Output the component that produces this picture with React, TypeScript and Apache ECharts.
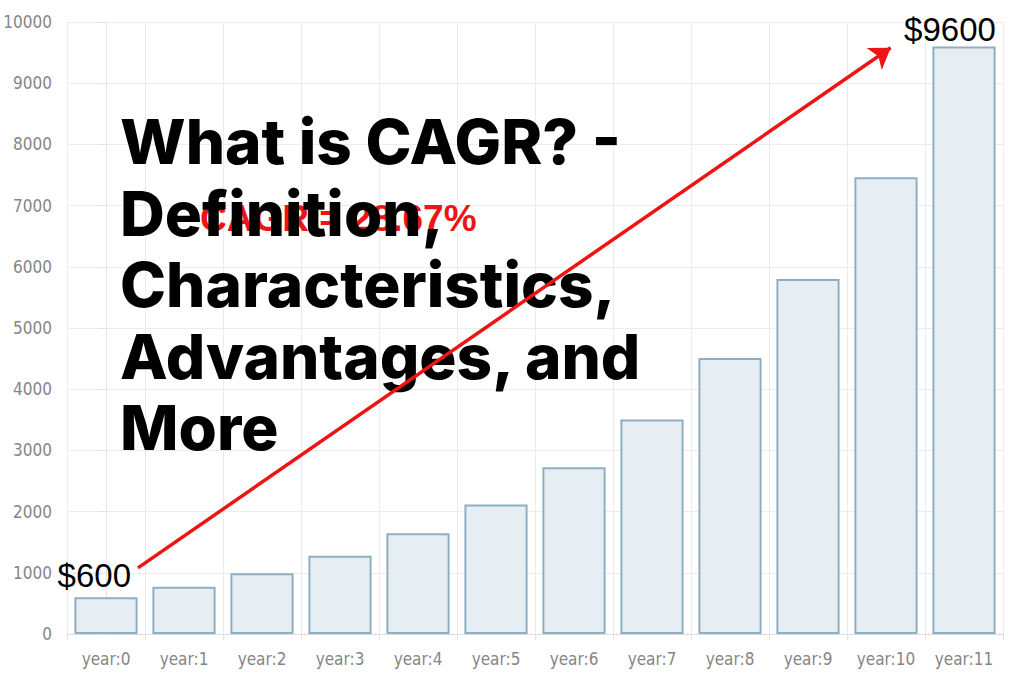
import React, { useEffect, useRef } from "react";
import * as echarts from "echarts";

const categories = ["year:0", "year:1", "year:2", "year:3", "year:4", "year:5", "year:6", "year:7", "year:8", "year:9", "year:10", "year:11"];
const values = [600, 772, 993, 1278, 1645, 2116, 2723, 3503, 4508, 5800, 7463, 9600];
const yMin = 0;
const yMax = 10000;
const yInterval = 1000;
const arrowStart = [0.41, 1080];
const arrowEnd = [10.06, 9580];
const startLabel = { text: "$600", pos: [-0.15, 960] };
const endLabel = { text: "$9600", pos: [10.82, 9880] };
const cagrText = "CAGR = 28.67%";
const titleLines = ["What is CAGR? -", "Definition,", "Characteristics,", "Advantages, and", "More"];

export default function App() {
  const ref = useRef<HTMLDivElement>(null);
  useEffect(() => {
    if (!ref.current) return;
    const chart = echarts.init(ref.current, null, { renderer: "svg" });
    const narrow = "'DejaVu Sans Condensed', 'Liberation Sans Narrow', 'Liberation Sans', sans-serif";
    chart.setOption({
      animation: false,
      backgroundColor: "#ffffff",
      grid: { left: 67, right: 21, top: 22, bottom: 49, containLabel: false },
      xAxis: [
        {
          type: "category",
          data: categories,
          boundaryGap: true,
          axisLine: { show: true, lineStyle: { color: "#dcdcdc", width: 1 } },
          axisTick: { show: true, length: 6, lineStyle: { color: "#e0e0e0" } },
          axisLabel: { interval: 0, color: "#858585", fontSize: 17, fontFamily: narrow, margin: 16 },
          splitLine: { show: true, lineStyle: { color: "#ececec", width: 1 } },
        },
        { type: "value", min: -0.5, max: 11.5, show: false },
      ],
      yAxis: {
        type: "value",
        min: yMin,
        max: yMax,
        interval: yInterval,
        axisLine: { show: true, lineStyle: { color: "#e6e6e6" } },
        axisTick: { show: true, length: 7, lineStyle: { color: "#e0e0e0" } },
        axisLabel: {
          color: "#858585",
          fontSize: 17,
          fontFamily: narrow,
          margin: 15,
          formatter: (v: number) => String(v),
        },
        splitLine: { show: true, lineStyle: { color: "#ececec", width: 1 } },
      },
      series: [
        {
          type: "bar",
          data: values,
          barCategoryGap: "19%",
          itemStyle: { color: "#e7eef3", borderColor: "#8eafc3", borderWidth: 2 },
          z: 2,
        },
        {
          type: "lines",
          coordinateSystem: "cartesian2d",
          xAxisIndex: 1,
          yAxisIndex: 0,
          symbol: ["none", "arrow"],
          symbolSize: [14, 20],
          lineStyle: { color: "#ee1414", width: 3.5, opacity: 1 },
          data: [{ coords: [arrowStart, arrowEnd] }],
          z: 10,
        },
        {
          type: "scatter",
          xAxisIndex: 1,
          yAxisIndex: 0,
          symbolSize: 0,
          itemStyle: { opacity: 1 },
          data: [
            { name: startLabel.text, value: startLabel.pos },
            { name: endLabel.text, value: endLabel.pos },
          ],
          label: {
            show: true,
            position: "inside",
            formatter: (p: any) => p.name,
            fontSize: 33,
            color: "#000000",
            opacity: 1,
            textBorderWidth: 0,
            fontFamily: "'Liberation Sans', Arial, sans-serif",
          },
          z: 10,
        },
      ],
      graphic: [
        {
          type: "text",
          left: 200,
          top: 200,
          z: 3,
          style: {
            text: cagrText,
            fill: "#ee1414",
            font: "bold 37px 'Liberation Sans', Arial, sans-serif",
          },
        },
        {
          type: "text",
          left: 120,
          top: 106,
          z: 5,
          style: {
            text: titleLines.join("\n"),
            fill: "#000000",
            font: "800 62px Inter, 'Noto Sans', sans-serif",
            lineHeight: 71.5,
          },
        },
      ],
    });
    return () => chart.dispose();
  }, []);
  return (
    <div
      ref={ref}
      style={{ position: "fixed", left: 0, top: 0, width: 1024, height: 683, background: "#fff" }}
    />
  );
}
